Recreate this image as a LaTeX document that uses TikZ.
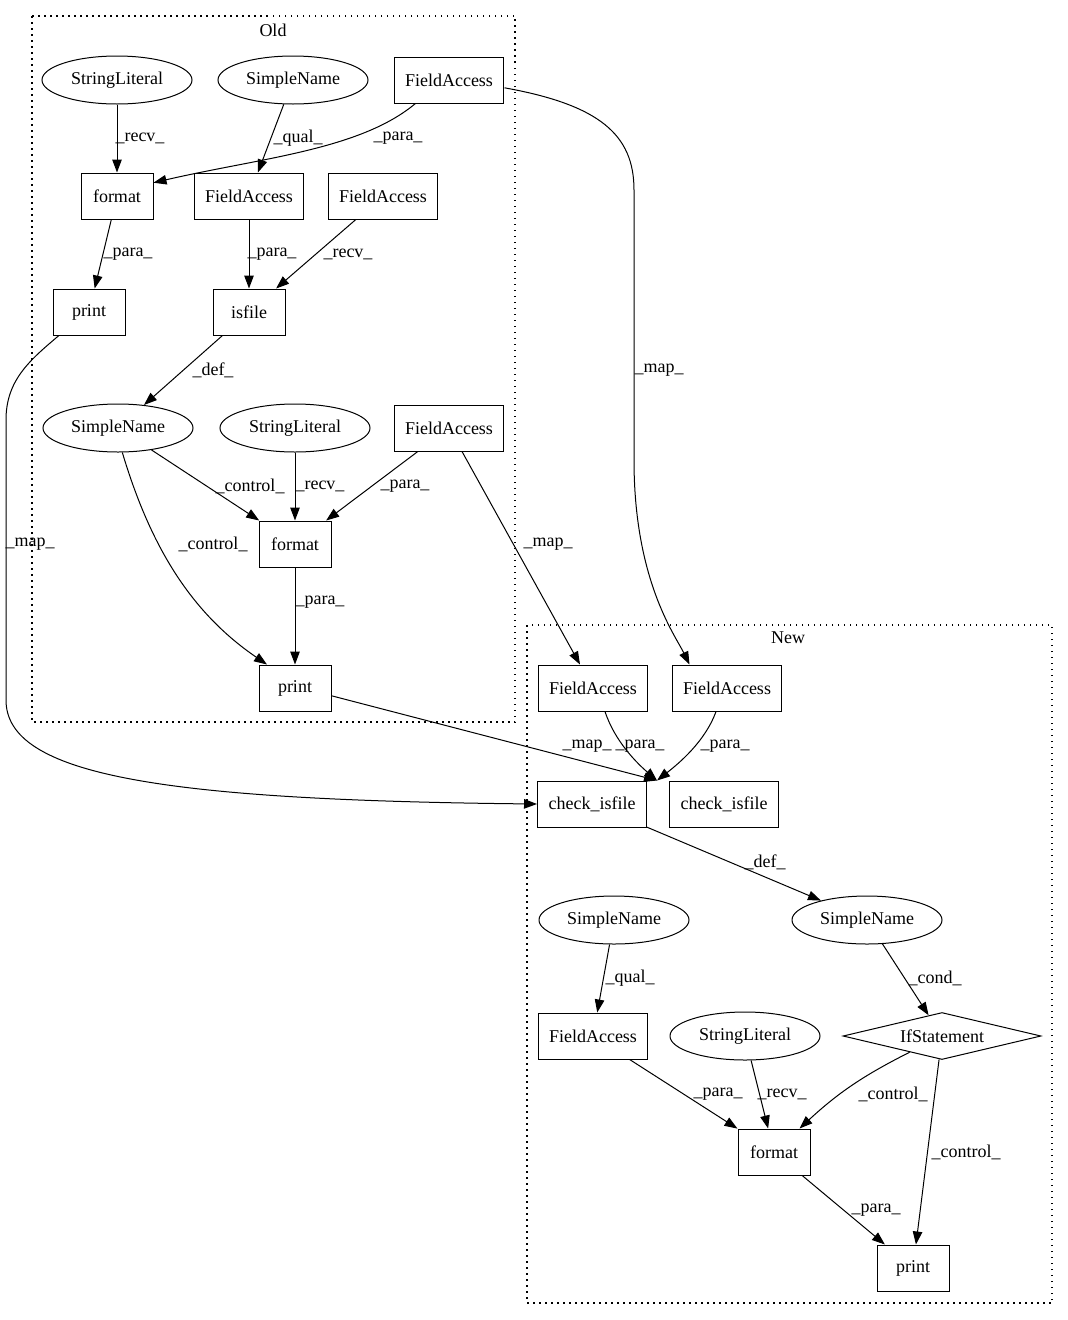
\documentclass[tikz,border=0pt]{standalone}
\usepackage{fontspec}
\setmainfont{Liberation Serif}
\usetikzlibrary{shapes.geometric, arrows.meta, positioning}

\begin{document}
\begin{tikzpicture}[
        x=1pt, y=-1pt,
        font=\fontsize{18pt}{20pt}\selectfont,
        >={Triangle[length=13pt, width=9.5pt]},
        every path/.style={line width=1pt},
        leaf/.style={draw, ellipse, minimum width=150pt, minimum height=48pt, inner sep=0pt},
        op/.style={draw, rectangle, minimum width=72pt, minimum height=46pt, inner xsep=11pt, inner ysep=0pt},
        test/.style={draw, diamond, aspect=4.2, minimum width=198pt, minimum height=47pt, inner sep=0pt},
        lbl/.style={inner sep=0pt},
        cluster/.style={line width=1.5pt, dash pattern=on 1.5pt off 4.5pt}
    ]
        \useasboundingbox (0,0) rectangle (1068,1320);

        % Clusters
        \draw[cluster] (32,16) rectangle (515,722);
        \node[lbl] (oldtitle) at (273,30) {Old};
        \draw[cluster] (527,625) rectangle (1052,1303);
        \node[lbl] (newtitle) at (788,638) {New};

        % Old graph
        \node[leaf] (sl1) at (117,80) {StringLiteral};
        \node[leaf] (sn1) at (293,80) {SimpleName};
        \node[op] (fa1) at (449,80) {FieldAccess};
        \node[op] (fmt1) at (117,196) {format};
        \node[op] (fa2) at (249,196) {FieldAccess};
        \node[op] (fa3) at (383,196) {FieldAccess};
        \node[op] (pr1) at (89,312) {print};
        \node[op] (isf) at (249,312) {isfile};
        \node[leaf] (sn2) at (118,428) {SimpleName};
        \node[leaf] (sl2) at (295,428) {StringLiteral};
        \node[op] (fa4) at (449,428) {FieldAccess};
        \node[op] (fmt2) at (295,544) {format};
        \node[op] (pr2) at (295,688) {print};

        % New graph
        \node[op] (fa5) at (593,688) {FieldAccess};
        \node[op] (fa6) at (727,688) {FieldAccess};
        \node[op] (ci1) at (592,804) {check\_isfile};
        \node[op] (ci2) at (724,804) {check\_isfile};
        \node[leaf] (sn3) at (614,920) {SimpleName};
        \node[leaf] (sn4) at (867,920) {SimpleName};
        \node[op] (fa7) at (593,1036) {FieldAccess};
        \node[leaf] (sl3) at (745,1036) {StringLiteral};
        \node[test] (ifs) at (942,1036) {IfStatement};
        \node[op] (fmt3) at (774,1152) {format};
        \node[op] (pr3) at (913,1268) {print};

        % Edges in Old
        \draw[->] (sl1) -- (fmt1) node[lbl] at (140,138) {\_recv\_};
        \draw[->] (sn1) -- (fa2) node[lbl] at (298,138) {\_qual\_};
        \draw[->] (fa1.215) .. controls (360,150) and (260,158) .. (fmt1.20) node[lbl] at (398,138) {\_para\_};
        \draw[->] (fmt1) -- (pr1) node[lbl] at (128,254) {\_para\_};
        \draw[->] (fa2) -- (isf) node[lbl] at (272,254) {\_para\_};
        \draw[->] (fa3) -- (isf) node[lbl] at (348,254) {\_recv\_};
        \draw[->] (isf) -- (sn2) node[lbl] at (213,370) {\_def\_};
        \draw[->] (sn2) -- (fmt2) node[lbl] at (250,486) {\_control\_};
        \draw[->] (sl2) -- (fmt2) node[lbl] at (320,486) {\_recv\_};
        \draw[->] (fa4) -- (fmt2) node[lbl] at (405,486) {\_para\_};
        \draw[->] (sn2.-80) .. controls (150,545) and (190,612) .. (pr2.140) node[lbl] at (213,544) {\_control\_};
        \draw[->] (fmt2) -- (pr2) node[lbl] at (320,602) {\_para\_};

        % Mapping edges
        \draw[->] (pr1.218) .. controls (30,360) and (6,380) .. (6,420) -- (6,700)
            .. controls (6,775) and (160,800) .. (ci1.west) node[lbl] at (30,544) {\_map\_};
        \draw[->] (fa1.-8) .. controls (600,105) and (634,135) .. (634,190) -- (634,460)
            .. controls (634,580) and (675,635) .. ([xshift=18pt]fa6.north west) node[lbl] at (659,370) {\_map\_};
        \draw[->] (fa4) -- (fa5) node[lbl] at (548,544) {\_map\_};
        \draw[->] (pr2.-12) -- ([xshift=-12pt]ci2.north west) node[lbl] at (587,746) {\_map\_};

        % Edges in New
        \draw[->] ([xshift=12pt]fa5.south) .. controls (615,742) and (638,764) .. ([xshift=-12pt]ci2.north west) node[lbl] at (640,746) {\_para\_};
        \draw[->] ([xshift=-11pt]fa6.south) .. controls (705,742) and (678,764) .. ([xshift=-12pt]ci2.north west) node[lbl] at (725,746) {\_para\_};
        \draw[->] (ci1) -- (sn4) node[lbl] at (765,862) {\_def\_};
        \draw[->] (sn3) -- (fa7) node[lbl] at (630,978) {\_qual\_};
        \draw[->] (sn4) -- (ifs) node[lbl] at (935,978) {\_cond\_};
        \draw[->] (fa7) -- (fmt3) node[lbl] at (718,1094) {\_para\_};
        \draw[->] (sl3) -- (fmt3) node[lbl] at (782,1094) {\_recv\_};
        \draw[->] (ifs) to[bend right=8] (fmt3) node[lbl] at (893,1094) {\_control\_};
        \draw[->] (ifs) -- (pr3) node[lbl] at (966,1152) {\_control\_};
        \draw[->] (fmt3) -- (pr3) node[lbl] at (876,1210) {\_para\_};

    \end{tikzpicture}
\end{document}
